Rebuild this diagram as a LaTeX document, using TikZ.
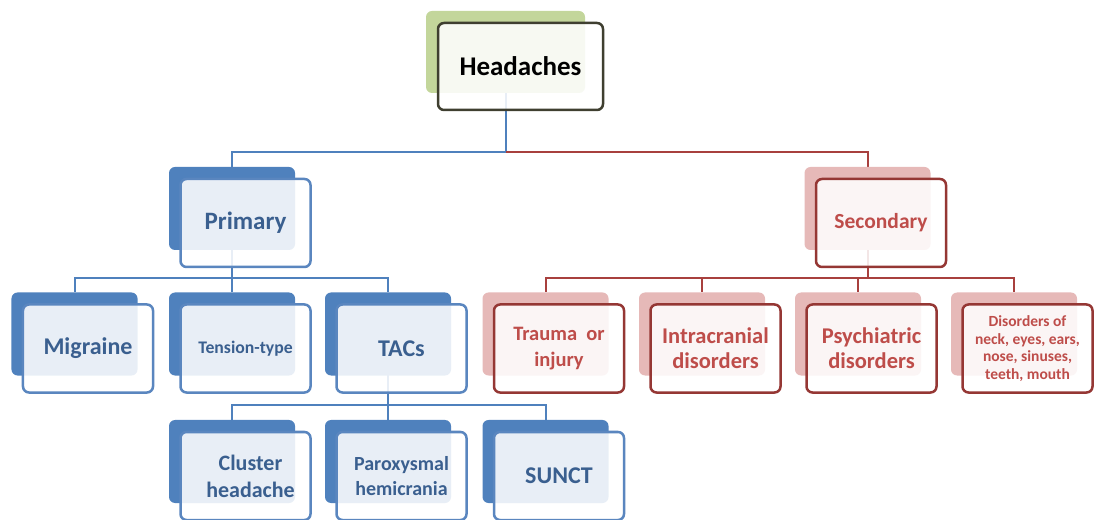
\documentclass[tikz,border=0pt]{standalone}
\usepackage{fontspec}
\setmainfont{Carlito}
\usetikzlibrary{calc}
\pgfdeclarelayer{background}
\pgfsetlayers{background,main}

\definecolor{accblue}{HTML}{4F81BD}
\definecolor{blueedge}{HTML}{5A86BF}
\definecolor{bluetext}{HTML}{3A5F8F}
\definecolor{redback}{HTML}{E6B9B8}
\definecolor{rededge}{HTML}{953734}
\definecolor{redtext}{HTML}{BE4D4A}
\definecolor{redwire}{HTML}{A8403E}
\definecolor{greenback}{HTML}{C3D69B}
\definecolor{darkedge}{HTML}{3F3F30}

\tikzset{
  backbox/.style={rounded corners=6bp, minimum width=126bp, minimum height=83bp,
    inner sep=0pt, outer sep=0pt},
  frontbox/.style={rounded corners=6bp, minimum width=130bp, minimum height=88bp,
    inner sep=0pt, outer sep=0pt, fill=white, fill opacity=0.87, text opacity=1,
    line width=2.5bp, align=center},
  blueback/.style={backbox, fill=accblue},
  bluefront/.style={frontbox, draw=blueedge, text=bluetext},
  redback/.style={backbox, fill=redback},
  redfront/.style={frontbox, draw=rededge, text=redtext},
  bluewire/.style={draw=accblue, line width=2bp},
  redwire/.style={draw=redwire, line width=2bp},
}

% \concept{name}{x}{y}{colour}{font size}{leading}{text}
\newcommand\concept[7]{%
  \node[#4back] (#1-b) at (#2,#3) {};
  \node[#4front, font=\fontsize{#5bp}{#6bp}\selectfont\bfseries]
    (#1) at ($(#1-b.center)+(13.5,14.5)$) {#7};
}

\begin{document}
\begin{tikzpicture}[x=1bp,y=-1bp]
\useasboundingbox (0,0) rectangle (1095,520);

% root
\node[backbox, fill=greenback, minimum width=159bp, minimum height=82bp]
  (head-b) at (505.5,52) {};
\node[frontbox, draw=darkedge, text=black, minimum width=165bp, minimum height=87bp,
  font=\fontsize{27bp}{30bp}\selectfont\bfseries] (head) at (520.5,66.5) {Headaches};

% first level
\concept{prim}{232}{208.5}{blue}{25}{28}{Primary}
\concept{sec}{867.5}{208.5}{red}{21.5}{25}{Secondary}

% second level
\concept{mig}{74.5}{334}{blue}{24}{28}{Migraine}
\concept{ten}{232}{334}{blue}{17.7}{20}{Tension-type}
\concept{tac}{388}{334}{blue}{24}{28}{TACs}
\concept{tra}{545.5}{334}{red}{20.5}{26}{Trauma\ \ or\\injury}
\concept{intra}{702}{334}{red}{22.5}{25}{Intracranial\\disorders}
\concept{psy}{858}{334}{red}{22.5}{25}{Psychiatric\\disorders}
\concept{dis}{1014}{334}{red}{15.5}{17.7}{Disorders of\\neck, eyes, ears,\\nose, sinuses,\\teeth, mouth}

% third level
\concept{clu}{232}{461.5}{blue}{22}{27}{\hspace*{10bp}Cluster\\\hspace*{10bp}headache}
\concept{par}{388}{461.5}{blue}{20}{25}{Paroxysmal\\hemicrania}
\concept{sun}{545.5}{461.5}{blue}{24}{28}{SUNCT}

% connectors, behind the boxes
\coordinate (lvl1) at (0,152);
\coordinate (lvl2) at (0,278);
\coordinate (lvl3) at (0,405);
\begin{pgfonlayer}{background}
  \draw[bluewire] (head-b.center) -- (head-b.center |- lvl1) -| (prim-b.north);
  \draw[redwire] (head-b.center |- lvl1) -| (sec-b.north);

  \draw[bluewire] (prim-b.center) -- (prim-b.center |- lvl2) -| (mig-b.north);
  \draw[bluewire] (prim-b.center |- lvl2) -| (ten-b.north);
  \draw[bluewire] (prim-b.center |- lvl2) -| (tac-b.north);

  \draw[redwire] (sec-b.center) -- (sec-b.center |- lvl2) -| (tra-b.north);
  \draw[redwire] (sec-b.center |- lvl2) -| (intra-b.north);
  \draw[redwire] (sec-b.center |- lvl2) -| (psy-b.north);
  \draw[redwire] (sec-b.center |- lvl2) -| (dis-b.north);

  \draw[bluewire] (tac-b.center) -- (tac-b.center |- lvl3) -| (clu-b.north);
  \draw[bluewire] (tac-b.center |- lvl3) -| (par-b.north);
  \draw[bluewire] (tac-b.center |- lvl3) -| (sun-b.north);
\end{pgfonlayer}
\end{tikzpicture}
\end{document}
